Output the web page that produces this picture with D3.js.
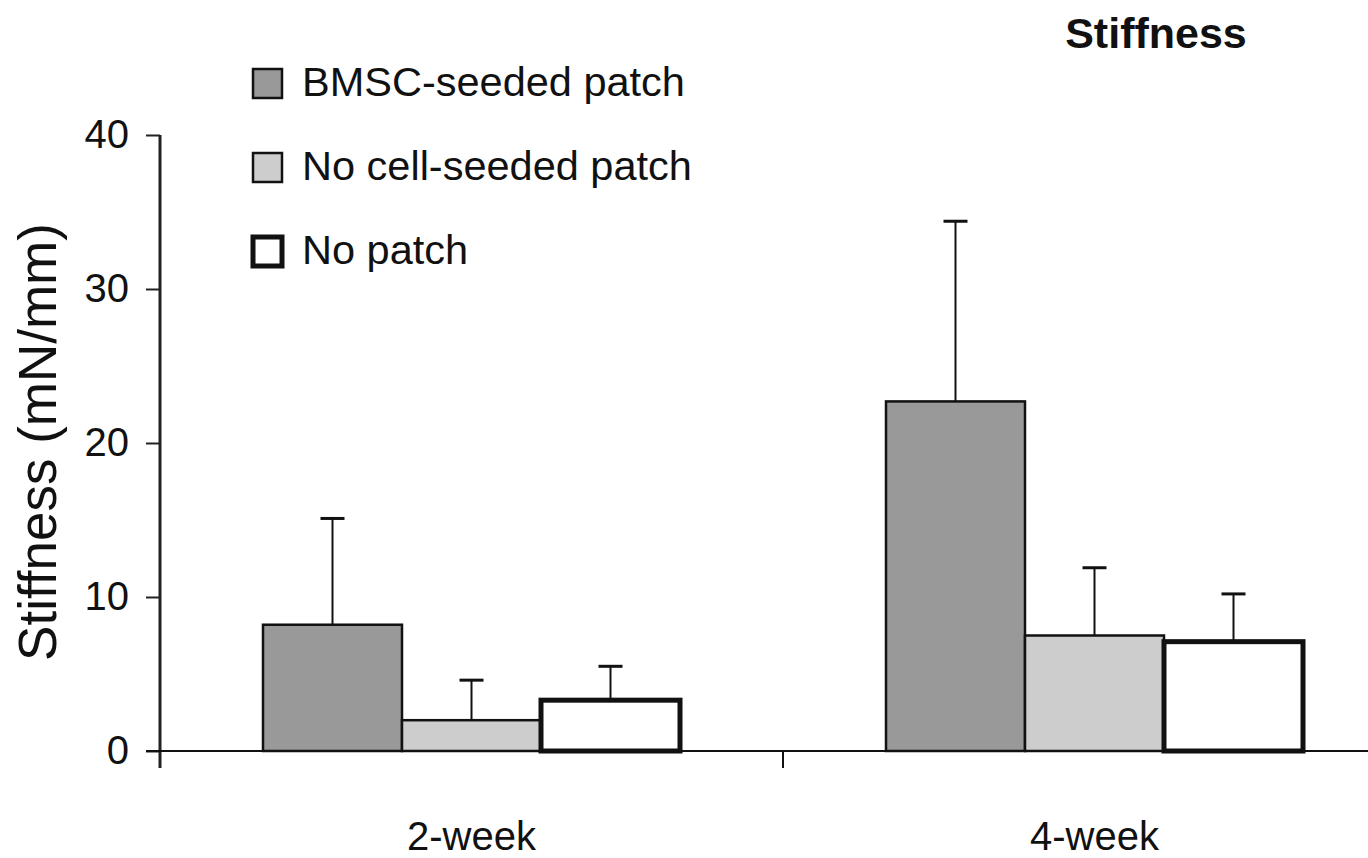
<!DOCTYPE html>
<html>
<head>
<meta charset="utf-8">
<script src="https://cdn.jsdelivr.net/npm/d3@7"></script>
<style>
    body { margin: 0; background: #fff; }
    svg text { font-family: "Liberation Sans", Arial, sans-serif; fill: #111; }
</style>
</head>
<body>
<div id="stiffness-chart"></div>
<script>
// data
const categories = ["2-week", "4-week"];
const groups = ["BMSC-seeded patch", "No cell-seeded patch", "No patch"];
const bmscMean = [8.2, 22.7];
const bmscSd = [6.9, 11.7];
const noCellMean = [2.0, 7.5];
const noCellSd = [2.6, 4.4];
const noPatchMean = [3.3, 7.1];
const noPatchSd = [2.2, 3.1];
const yTicks = [0, 10, 20, 30, 40];

drawChart();

function drawChart() {
    const width = 1368, height = 858;

    const svg = d3.select("#stiffness-chart").append("svg")
        .attr("width", width)
        .attr("height", height);

    const means = [bmscMean, noCellMean, noPatchMean];
    const sds = [bmscSd, noCellSd, noPatchSd];
    const data = [];
    categories.forEach((c, i) => {
        groups.forEach((g, j) => {
            data.push({ cat: c, group: g, mean: means[j][i], sd: sds[j][i] });
        });
    });

    // 样式映射
    const fill = d3.scaleOrdinal().domain(groups).range(["#999999", "#cdcdcd", "#ffffff"]);
    const strokeW = d3.scaleOrdinal().domain(groups).range([2.5, 2.5, 5]);

    // X轴 - the third category slot runs off the right edge in the original
    const x0 = d3.scaleBand()
        .domain(categories)
        .range([160, 1406])
        .paddingInner(0)
        .paddingOuter(0);

    const x1 = d3.scaleBand()
        .domain(groups)
        .range([0, x0.bandwidth()])
        .paddingInner(0)
        .paddingOuter(0.741);

    // Y轴
    const y = d3.scaleLinear()
        .domain([0, 40])
        .range([751, 135]);

    // bars
    svg.selectAll(".bar")
        .data(data)
        .enter().append("rect")
        .attr("class", "bar")
        .attr("x", d => x0(d.cat) + x1(d.group))
        .attr("y", d => y(d.mean))
        .attr("width", x1.bandwidth())
        .attr("height", d => y(0) - y(d.mean))
        .attr("fill", d => fill(d.group))
        .attr("stroke", "#111")
        .attr("stroke-width", d => strokeW(d.group));

    // error bars (upper only)
    const cx = d => x0(d.cat) + x1(d.group) + x1.bandwidth() / 2;
    svg.selectAll(".err")
        .data(data)
        .enter().append("line")
        .attr("class", "err")
        .attr("x1", cx)
        .attr("x2", cx)
        .attr("y1", d => y(d.mean))
        .attr("y2", d => y(d.mean + d.sd))
        .attr("stroke", "#111")
        .attr("stroke-width", 2);

    svg.selectAll(".err-cap")
        .data(data)
        .enter().append("line")
        .attr("class", "err-cap")
        .attr("x1", d => cx(d) - 12)
        .attr("x2", d => cx(d) + 12)
        .attr("y1", d => y(d.mean + d.sd))
        .attr("y2", d => y(d.mean + d.sd))
        .attr("stroke", "#111")
        .attr("stroke-width", 3);

    // y axis
    const yAxis = svg.append("g")
        .attr("class", "y-axis")
        .attr("transform", "translate(160,0)")
        .call(d3.axisLeft(y).tickValues(yTicks).tickSize(14).tickPadding(17).tickSizeOuter(0));
    yAxis.select(".domain").remove();
    yAxis.selectAll(".tick line").attr("stroke", "#222").attr("stroke-width", 2);
    yAxis.selectAll(".tick text")
        .style("font-size", "40px")
        .attr("fill", "#111");
    yAxis.append("line")
        .attr("x1", 0).attr("x2", 0)
        .attr("y1", y(40)).attr("y2", y(0) + 17)
        .attr("stroke", "#222")
        .attr("stroke-width", 3);

    // x axis
    const xAxis = svg.append("g")
        .attr("class", "x-axis")
        .attr("transform", `translate(0,${y(0)})`);
    xAxis.append("line")
        .attr("x1", 146).attr("x2", width)
        .attr("y1", 0).attr("y2", 0)
        .attr("stroke", "#111")
        .attr("stroke-width", 2);
    xAxis.selectAll(".sep")
        .data(categories.slice(1))
        .enter().append("line")
        .attr("class", "sep")
        .attr("x1", d => x0(d)).attr("x2", d => x0(d))
        .attr("y1", 0).attr("y2", 17)
        .attr("stroke", "#111")
        .attr("stroke-width", 2);
    xAxis.selectAll(".cat-label")
        .data(categories)
        .enter().append("text")
        .attr("class", "cat-label")
        .attr("x", d => x0(d) + x0.bandwidth() / 2)
        .attr("y", 99)
        .attr("text-anchor", "middle")
        .style("font-size", "40px")
        .text(d => d);

    // y title
    svg.append("text")
        .attr("transform", "translate(56,442) rotate(-90)")
        .attr("text-anchor", "middle")
        .style("font-size", "53px")
        .text("Stiffness (mN/mm)");

    // chart title
    svg.append("text")
        .attr("x", 1156)
        .attr("y", 48)
        .attr("text-anchor", "middle")
        .style("font-size", "43px")
        .style("font-weight", "bold")
        .text("Stiffness");

    // legend
    const legend = svg.selectAll(".legend")
        .data(groups)
        .enter().append("g")
        .attr("class", "legend")
        .attr("transform", (d, i) => `translate(253,${83 + i * 84})`);
    legend.append("rect")
        .attr("x", 0)
        .attr("y", -14)
        .attr("width", 29)
        .attr("height", 29)
        .attr("fill", d => fill(d))
        .attr("stroke", "#111")
        .attr("stroke-width", d => d === "No patch" ? 5 : 2.5);
    legend.append("text")
        .attr("x", 49)
        .attr("y", 13)
        .style("font-size", "41.5px")
        .text(d => d);
}
</script>
</body>
</html>
